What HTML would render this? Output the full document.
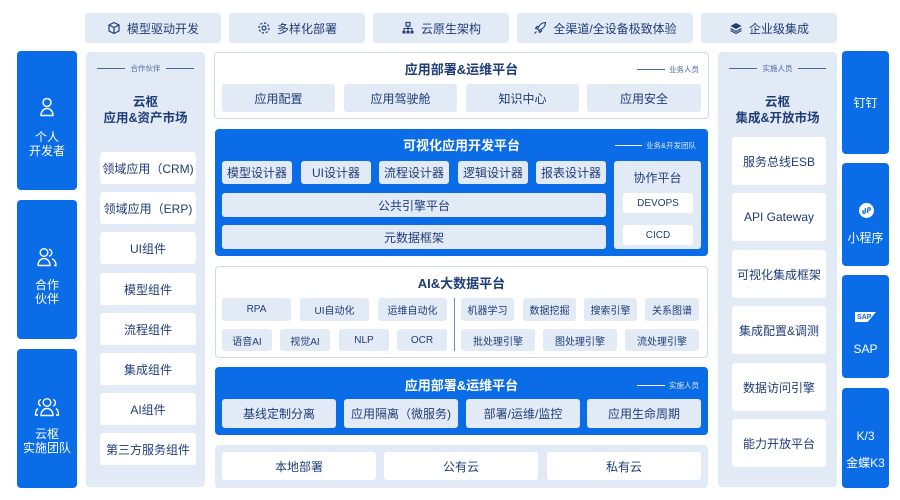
<!DOCTYPE html>
<html><head><meta charset="utf-8">
<style>
*{margin:0;padding:0;box-sizing:border-box}
body{width:900px;height:500px;background:#fff;position:relative;overflow:hidden;font-family:"Liberation Sans","Noto Sans CJK SC",sans-serif;color:#1e3c78}
.a{position:absolute}
.c{position:absolute;display:flex;align-items:center;justify-content:center;text-align:center;white-space:nowrap}
.lt{background:#e2eaf6}
.wh{background:#fff}
.bl{background:#0a6ce6;color:#fff}
.r3{border-radius:3px}
.r4{border-radius:4px}
.f12{font-size:12px}
.f10{font-size:10px}
.t{font-size:13px;font-weight:bold}
.sm{font-size:7.5px;color:#4a6aa0;display:flex;align-items:center;white-space:nowrap}
.sm i{display:inline-block;height:1px;background:#4a6aa0;width:28px}
</style></head><body>

<!-- top buttons -->
<div class="c lt r3 f12" style="left:85px;top:13px;width:136px;height:30px">
<svg width="14" height="14" viewBox="0 0 14 14" style="margin-right:6px"><path d="M7 1.5L12 4v6L7 12.5 2 10V4z M2 4l5 2.5L12 4 M7 6.5v6" fill="none" stroke="#1e3c78" stroke-width="1.2" stroke-linejoin="round"/></svg>模型驱动开发</div>
<div class="c lt r3 f12" style="left:229px;top:13px;width:136px;height:30px">
<svg width="14" height="14" viewBox="0 0 14 14" style="margin-right:6px"><circle cx="7" cy="7" r="2" fill="none" stroke="#1e3c78" stroke-width="1.2"/><circle cx="7" cy="7" r="5" fill="none" stroke="#1e3c78" stroke-width="1.2" stroke-dasharray="2.2 1.7"/></svg>多样化部署</div>
<div class="c lt r3 f12" style="left:373px;top:13px;width:136px;height:30px">
<svg width="14" height="14" viewBox="0 0 14 14" style="margin-right:6px"><rect x="5" y="1.5" width="4" height="3.5" fill="none" stroke="#1e3c78" stroke-width="1.1"/><path d="M7 5v2.5 M3 10V7.5h8V10 M7 7.5V10" fill="none" stroke="#1e3c78" stroke-width="1.1"/><rect x="1.5" y="10" width="3" height="2.5" fill="#1e3c78"/><rect x="5.5" y="10" width="3" height="2.5" fill="#1e3c78"/><rect x="9.5" y="10" width="3" height="2.5" fill="#1e3c78"/></svg>云原生架构</div>
<div class="c lt r3 f12" style="left:517px;top:13px;width:176px;height:30px">
<svg width="14" height="14" viewBox="0 0 14 14" style="margin-right:6px"><path d="M12.5 1.5C9 1.5 6 4 4.5 8l1.5 1.5C10 8 12.5 5 12.5 1.5z M4.5 8L2.5 7.5 4 5.5h2.5 M6 9.5l.5 2 2-1.5V7.5 M3.5 10.5l-2 2" fill="none" stroke="#1e3c78" stroke-width="1.1" stroke-linejoin="round"/></svg>全渠道/全设备极致体验</div>
<div class="c lt r3 f12" style="left:701px;top:13px;width:136px;height:30px">
<svg width="14" height="14" viewBox="0 0 14 14" style="margin-right:6px"><path d="M7 2l5.5 3L7 8 1.5 5z" fill="#1e3c78"/><path d="M1.5 7.5L7 10.5l5.5-3 M1.5 9.5L7 12.5l5.5-3" fill="none" stroke="#1e3c78" stroke-width="1.1"/></svg>企业级集成</div>

<!-- left blue column -->
<div class="a bl r4" style="left:17px;top:51px;width:60px;height:139px"></div>
<svg class="a" style="left:39px;top:97px" width="16" height="20" viewBox="0 0 16 20"><circle cx="8" cy="5.5" r="4" fill="none" stroke="#fff" stroke-width="1.5"/><path d="M2 18.5c0-4 2.5-7 6-7s6 3 6 7z" fill="none" stroke="#fff" stroke-width="1.5" stroke-linejoin="round"/></svg>
<div class="c f12" style="left:17px;top:129px;width:60px;height:30px;color:#fff;flex-direction:column;line-height:14px">个人<br>开发者</div>

<div class="a bl r4" style="left:17px;top:200px;width:60px;height:139px"></div>
<svg class="a" style="left:36px;top:247px" width="22" height="20" viewBox="0 0 22 20"><circle cx="8" cy="5.5" r="3.8" fill="none" stroke="#fff" stroke-width="1.4"/><path d="M2 18.5c0-4 2.5-7 6-7s6 3 6 7z" fill="none" stroke="#fff" stroke-width="1.4" stroke-linejoin="round"/><path d="M13 2.2a3.6 3.6 0 0 1 0 7 M16 11.8c2.2 1 4 3.3 4 6.7h-2" fill="none" stroke="#fff" stroke-width="1.4"/></svg>
<div class="c f12" style="left:17px;top:277px;width:60px;height:30px;color:#fff;line-height:14px">合作<br>伙伴</div>

<div class="a bl r4" style="left:17px;top:349px;width:60px;height:139px"></div>
<svg class="a" style="left:34px;top:397px" width="26" height="20" viewBox="0 0 26 20"><circle cx="13" cy="5.5" r="3.8" fill="none" stroke="#fff" stroke-width="1.4"/><path d="M7 18.5c0-4 2.5-7 6-7s6 3 6 7z" fill="none" stroke="#fff" stroke-width="1.4" stroke-linejoin="round"/><path d="M7 2.5a3.4 3.4 0 0 0 0 6.5 M4 11.5C2.5 12.5 1.5 15 1.5 18h2.5 M19 2.5a3.4 3.4 0 0 1 0 6.5 M22 11.5c1.5 1 2.5 3.5 2.5 6.5H22" fill="none" stroke="#fff" stroke-width="1.4"/></svg>
<div class="c f12" style="left:17px;top:426px;width:60px;height:30px;color:#fff;line-height:14px">云枢<br>实施团队</div>

<!-- left panel -->
<div class="a lt r4" style="left:86px;top:52px;width:119px;height:435px"></div>
<div class="a sm" style="left:97px;top:63px;width:97px;justify-content:space-between"><i></i><span>合作伙伴</span><i></i></div>
<div class="c t" style="left:86px;top:93px;width:119px;height:34px;line-height:16px;font-size:12.5px">云枢<br>应用&amp;资产市场</div>
<div class="c wh r3 f12" style="left:100px;top:152px;width:96px;height:32px">领域应用（CRM)</div>
<div class="c wh r3 f12" style="left:100px;top:192px;width:96px;height:32px">领域应用（ERP)</div>
<div class="c wh r3 f12" style="left:100px;top:232px;width:96px;height:32px">UI组件</div>
<div class="c wh r3 f12" style="left:100px;top:273px;width:96px;height:32px">模型组件</div>
<div class="c wh r3 f12" style="left:100px;top:313px;width:96px;height:32px">流程组件</div>
<div class="c wh r3 f12" style="left:100px;top:353px;width:96px;height:32px">集成组件</div>
<div class="c wh r3 f12" style="left:100px;top:393px;width:96px;height:32px">AI组件</div>
<div class="c wh r3 f12" style="left:100px;top:433px;width:96px;height:32px">第三方服务组件</div>

<!-- center top panel -->
<div class="a r4" style="left:214px;top:52px;width:495px;height:67px;border:1px solid #c9d9f0;background:#fff"></div>
<div class="c t" style="left:214px;top:60px;width:495px;height:16px">应用部署&amp;运维平台</div>
<div class="a sm" style="left:637px;top:64px"><i></i><span style="margin-left:4px">业务人员</span></div>
<div class="c lt r3 f12" style="left:222px;top:84px;width:113px;height:28px">应用配置</div>
<div class="c lt r3 f12" style="left:344px;top:84px;width:113px;height:28px">应用驾驶舱</div>
<div class="c lt r3 f12" style="left:466px;top:84px;width:113px;height:28px">知识中心</div>
<div class="c lt r3 f12" style="left:587px;top:84px;width:114px;height:28px">应用安全</div>

<!-- visual platform -->
<div class="a bl r4" style="left:215px;top:129px;width:493px;height:127px"></div>
<div class="c t" style="left:215px;top:135px;width:493px;height:18px;color:#fff">可视化应用开发平台</div>
<div class="a sm" style="left:615px;top:140px;color:#fff"><i style="background:#fff;width:27px"></i><span style="margin-left:4px;color:#dde8fa">业务&amp;开发团队</span></div>
<div class="c lt r3 f12" style="left:222px;top:161px;width:70px;height:23px">模型设计器</div>
<div class="c lt r3 f12" style="left:301px;top:161px;width:70px;height:23px">UI设计器</div>
<div class="c lt r3 f12" style="left:379px;top:161px;width:70px;height:23px">流程设计器</div>
<div class="c lt r3 f12" style="left:458px;top:161px;width:70px;height:23px">逻辑设计器</div>
<div class="c lt r3 f12" style="left:536px;top:161px;width:70px;height:23px">报表设计器</div>
<div class="c lt r3 f12" style="left:222px;top:193px;width:384px;height:24px">公共引擎平台</div>
<div class="c lt r3 f12" style="left:222px;top:225px;width:384px;height:24px">元数据框架</div>
<div class="a lt r3" style="left:614px;top:161px;width:87px;height:88px"></div>
<div class="c f12" style="left:614px;top:169px;width:87px;height:16px">协作平台</div>
<div class="c wh r3 f10" style="left:623px;top:193px;width:70px;height:20px">DEVOPS</div>
<div class="c wh r3 f10" style="left:623px;top:225px;width:70px;height:20px">CICD</div>

<!-- AI panel -->
<div class="a r4" style="left:215px;top:266px;width:493px;height:92px;border:1px solid #c9d9f0;background:#fff"></div>
<div class="c t" style="left:215px;top:274px;width:493px;height:16px">AI&amp;大数据平台</div>
<div class="c lt r3 f10" style="left:222px;top:298px;width:69px;height:23px">RPA</div>
<div class="c lt r3 f10" style="left:300px;top:298px;width:69px;height:23px">UI自动化</div>
<div class="c lt r3 f10" style="left:378px;top:298px;width:69px;height:23px">运维自动化</div>
<div class="a" style="left:454px;top:298px;width:1px;height:53px;background:#6f88b8"></div>
<div class="c lt r3 f10" style="left:461px;top:298px;width:53px;height:23px">机器学习</div>
<div class="c lt r3 f10" style="left:523px;top:298px;width:53px;height:23px">数据挖掘</div>
<div class="c lt r3 f10" style="left:584px;top:298px;width:53px;height:23px">搜索引擎</div>
<div class="c lt r3 f10" style="left:645px;top:298px;width:54px;height:23px">关系图谱</div>
<div class="c lt r3 f10" style="left:222px;top:329px;width:50px;height:22px">语音AI</div>
<div class="c lt r3 f10" style="left:280px;top:329px;width:50px;height:22px">视觉AI</div>
<div class="c lt r3 f10" style="left:339px;top:329px;width:50px;height:22px">NLP</div>
<div class="c lt r3 f10" style="left:397px;top:329px;width:50px;height:22px">OCR</div>
<div class="c lt r3 f10" style="left:461px;top:329px;width:74px;height:22px">批处理引擎</div>
<div class="c lt r3 f10" style="left:543px;top:329px;width:74px;height:22px">图处理引擎</div>
<div class="c lt r3 f10" style="left:625px;top:329px;width:74px;height:22px">流处理引擎</div>

<!-- deploy panel -->
<div class="a bl r4" style="left:215px;top:367px;width:493px;height:68px"></div>
<div class="c t" style="left:215px;top:376px;width:493px;height:16px;color:#fff">应用部署&amp;运维平台</div>
<div class="a sm" style="left:637px;top:380px"><i style="background:#fff"></i><span style="margin-left:4px;color:#dde8fa">实施人员</span></div>
<div class="c lt r3 f12" style="left:222px;top:399px;width:114px;height:29px">基线定制分离</div>
<div class="c lt r3 f12" style="left:344px;top:399px;width:114px;height:29px">应用隔离（微服务)</div>
<div class="c lt r3 f12" style="left:466px;top:399px;width:114px;height:29px">部署/运维/监控</div>
<div class="c lt r3 f12" style="left:587px;top:399px;width:114px;height:29px">应用生命周期</div>

<!-- bottom panel -->
<div class="a lt r4" style="left:215px;top:445px;width:493px;height:43px"></div>
<div class="c wh r3 f12" style="left:222px;top:452px;width:154px;height:28px">本地部署</div>
<div class="c wh r3 f12" style="left:384px;top:452px;width:154px;height:28px">公有云</div>
<div class="c wh r3 f12" style="left:547px;top:452px;width:154px;height:28px">私有云</div>

<!-- right panel -->
<div class="a lt r4" style="left:718px;top:52px;width:119px;height:435px"></div>
<div class="a sm" style="left:729px;top:63px;width:97px;justify-content:space-between"><i></i><span>实施人员</span><i></i></div>
<div class="c t" style="left:718px;top:93px;width:119px;height:34px;line-height:16px;font-size:12.5px">云枢<br>集成&amp;开放市场</div>
<div class="c wh r3 f12" style="left:732px;top:137px;width:94px;height:48px">服务总线ESB</div>
<div class="c wh r3 f12" style="left:732px;top:193px;width:94px;height:48px">API Gateway</div>
<div class="c wh r3 f12" style="left:732px;top:250px;width:94px;height:48px">可视化集成框架</div>
<div class="c wh r3 f12" style="left:732px;top:306px;width:94px;height:48px">集成配置&amp;调测</div>
<div class="c wh r3 f12" style="left:732px;top:363px;width:94px;height:48px">数据访问引擎</div>
<div class="c wh r3 f12" style="left:732px;top:419px;width:94px;height:48px">能力开放平台</div>

<!-- right blue column -->
<div class="c bl r4 f12" style="left:842px;top:51px;width:47px;height:103px">钉钉</div>
<div class="a bl r4" style="left:842px;top:163px;width:47px;height:103px"></div>
<svg class="a" style="left:859px;top:203px" width="15" height="15" viewBox="0 0 15 15"><circle cx="7.5" cy="7.5" r="7.5" fill="#fff"/><path d="M6.3 5.5v3.5a1.3 1.3 0 1 1-1.5-1.3 M8.7 9.5V6a1.3 1.3 0 1 1 1.5 1.3" fill="none" stroke="#0a6ce6" stroke-width="1.2" stroke-linecap="round"/></svg>
<div class="c f12" style="left:842px;top:229px;width:47px;height:16px;color:#fff">小程序</div>
<div class="a bl r4" style="left:842px;top:275px;width:47px;height:103px"></div>
<div class="c" style="left:855px;top:312px;width:21px;height:10px;background:#fff;clip-path:polygon(0 0,100% 0,60% 100%,0 100%);font-size:7px;font-weight:bold;color:#0a6ce6;justify-content:flex-start;padding-left:2px">SAP</div>
<div class="c f12" style="left:842px;top:341px;width:47px;height:16px;color:#fff">SAP</div>
<div class="a bl r4" style="left:842px;top:388px;width:47px;height:100px"></div>
<div class="c f12" style="left:842px;top:428px;width:47px;height:16px;color:#fff">K/3</div>
<div class="c f12" style="left:842px;top:454px;width:47px;height:16px;color:#fff">金蝶K3</div>

</body></html>
